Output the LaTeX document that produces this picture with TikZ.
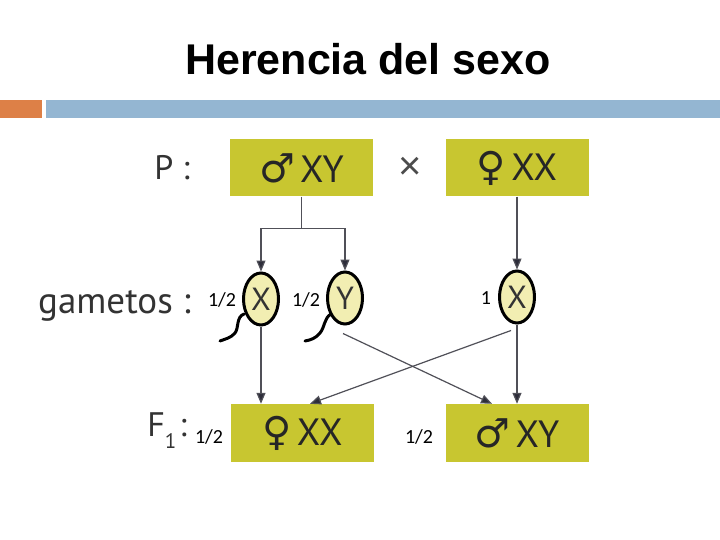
\documentclass[tikz,border=0pt]{standalone}
\usepackage{fontspec}
\setmainfont{Liberation Sans}
\newfontfamily\labelfont{PT Sans}
\newfontfamily\symfont{DejaVu Sans}
\newfontfamily\fracfont{Carlito}
\usetikzlibrary{arrows.meta, positioning, shapes.geometric, calc}

\definecolor{boxyellow}{RGB}{200,198,48}
\definecolor{gamfill}{RGB}{242,238,178}
\definecolor{barorange}{RGB}{221,128,71}
\definecolor{barblue}{RGB}{148,182,210}
\definecolor{linegrey}{RGB}{80,80,88}
\definecolor{tipgrey}{RGB}{45,45,58}

\newcommand{\malesign}{{\symfont\fontsize{40}{40}\selectfont ♂}\hspace{5pt}}
\newcommand{\femalesign}{{\symfont\fontsize{40}{40}\selectfont ♀}\hspace{5pt}}

\begin{document}
\begin{tikzpicture}[x=1pt, y=-1pt,
    genotype/.style={rectangle, fill=boxyellow, minimum width=143pt, minimum height=57pt, inner sep=0pt, text=black!85, font=\labelfont\fontsize{38}{38}\selectfont},
    gamete/.style={ellipse, draw=black, line width=3pt, fill=gamfill, minimum width=35pt, minimum height=52pt, inner sep=0pt, text=black!80, font=\labelfont\fontsize{32}{32}\selectfont},
    frac/.style={inner sep=0pt, font=\fracfont\fontsize{20}{20}\selectfont},
    rowlabel/.style={inner sep=0pt, anchor=base east, text=black!80, font=\labelfont\fontsize{34}{34}\selectfont},
    flow/.style={draw=linegrey, line width=1.2pt, -{Triangle[length=11pt, width=9pt, fill=tipgrey]}},
    tail/.style={draw=black, line width=3pt, line cap=round}
]
    \fill[white] (0,0) rectangle (720,540);
    \useasboundingbox (0,0) rectangle (720,540);

    % title and bars
    \node[anchor=base, inner sep=0pt, font=\bfseries\fontsize{43}{43}\selectfont] (title) at (368,75) {Herencia del sexo};
    \fill[barorange] (0,100) rectangle (42,118);
    \fill[barblue] (46,100) rectangle (720,118);

    % row labels
    \node[rowlabel] (rowP) at (190,180) {P :};
    \node[rowlabel, font=\labelfont\fontsize{37}{37}\selectfont] (rowG) at (191,313) {gametos :};
    \node[rowlabel] (rowF) at (187,436) {F{\fontsize{21}{21}\selectfont\raisebox{-12pt}{1}}\hspace{3pt}:};

    % parents
    \node[genotype] (pXY) at (301.5,168) {\malesign XY};
    \node[genotype] (pXX) at (517,168) {\femalesign XX};
    \node[inner sep=0pt, text=black!70, font=\fontsize{40}{40}\selectfont] (cross) at (410,168) {×};

    % gametes
    \node[gamete] (gX1) at (261,299) {X};
    \node[gamete] (gY) at (345,298) {Y};
    \node[gamete] (gX2) at (517,297) {X};
    \node[frac] (fracX1) at (222,300) {1/2};
    \node[frac] (fracY) at (306,300) {1/2};
    \node[frac] (fracX2) at (486,298) {1};
    \draw[tail] (244,314) .. controls (236,317) and (239,328) .. (235,333) .. controls (231,338) and (225,339) .. (220,341);
    \draw[tail] (331,314) .. controls (324,318) and (325,327) .. (320,333) .. controls (316,338) and (311,340) .. (305,341);

    % offspring
    \node[genotype, minimum height=58pt] (fXX) at (302.5,433) {\femalesign XX};
    \node[genotype, minimum height=58pt] (fXY) at (517,433) {\malesign XY};
    \node[frac] (fracXX) at (209,437) {1/2};
    \node[frac] (fracXY) at (419,437) {1/2};

    % connectors
    \coordinate (fork) at ([yshift=-32pt]pXY.south);
    \draw[draw=linegrey, line width=1.2pt] (pXY.south) -- (fork);
    \draw[flow] (fork) -| (gX1);
    \draw[flow] (fork) -| (gY);
    \draw[flow] (pXX) -- (gX2);
    \draw[flow] (gX1.south) -- (gX1 |- fXX.north);
    \draw[flow] (gX2.south) -- (gX2 |- fXY.north);
    \draw[flow] ([xshift=-2pt, yshift=-8pt]gY.south) -- ([xshift=-25pt]fXY.north);
    \draw[flow] ([xshift=-6pt, yshift=-6pt]gX2.south) -- ([xshift=7.5pt]fXX.north);
\end{tikzpicture}
\end{document}
